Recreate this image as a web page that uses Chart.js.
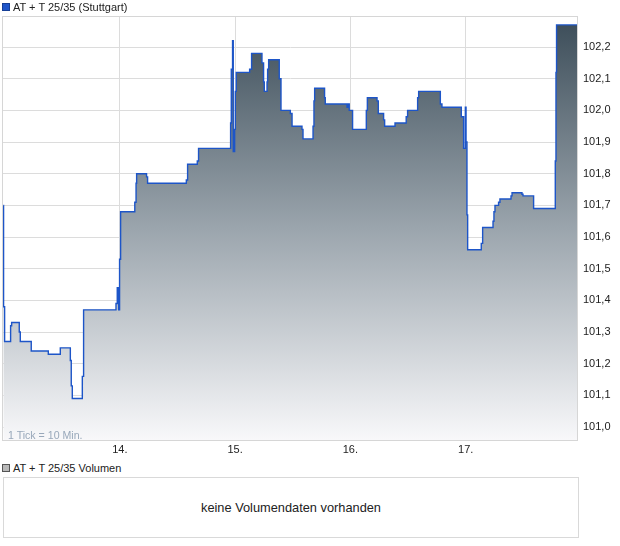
<!DOCTYPE html>
<html>
<head>
<meta charset="utf-8">
<script src="https://cdn.jsdelivr.net/npm/chart.js@4"></script>
<style>
  html, body { margin: 0; padding: 0; background: #ffffff; }
  body { width: 620px; height: 546px; position: relative; overflow: hidden; font-family: "Liberation Sans", Arial, sans-serif; color: #222; }
  #wrap { position: absolute; left: 0; top: 0; width: 620px; height: 460px; }
  .hdr { position: absolute; left: 2px; font-size: 11px; line-height: 12px; white-space: nowrap; }
  .hdr .sq { position: absolute; left: 0; top: 2px; width: 6px; height: 6px; }
  .hdr .tx { position: absolute; left: 11px; top: 0; }
  #h1 { top: 1px; }
  #h1 .sq { background: #1f55c9; border: 1px solid #163f96; }
  #h2 { top: 462px; }
  #h2 .sq { background: #b9b9b9; border: 1px solid #555; }
  #tick { position: absolute; left: 8px; top: 429px; font-size: 10.6px; color: #98a8ba; white-space: nowrap; }
  #vol { position: absolute; left: 3px; top: 477px; width: 574px; height: 59px; border: 1px solid #d9d9d9; box-sizing: content-box; }
  #vol span { position: absolute; left: 0; right: 0; top: 22px; text-align: center; font-size: 12.8px; color: #222; }
</style>
</head>
<body>
<div id="wrap"><canvas id="c" width="620" height="460"></canvas></div>
<div class="hdr" id="h1"><div class="sq"></div><div class="tx">AT + T 25/35 (Stuttgart)</div></div>
<div id="tick">1 Tick = 10 Min.</div>
<div class="hdr" id="h2"><div class="sq"></div><div class="tx">AT + T 25/35 Volumen</div></div>
<div id="vol"><span>keine Volumendaten vorhanden</span></div>
<script>
// Time axis in day units (integer = start of that trading day), price values
const times = [
  12.990, 12.992, 13.001, 13.053, 13.062, 13.128, 13.137, 13.232, 13.380, 13.484,
  13.571, 13.579, 13.588, 13.675, 13.686, 13.967, 13.978, 13.990, 13.998, 14.007,
  14.130, 14.141, 14.146, 14.232, 14.241, 14.577, 14.588, 14.672, 14.683, 14.961,
  14.967, 14.978, 14.984, 14.996, 15.002, 15.010, 15.126, 15.143, 15.233, 15.247,
  15.253, 15.277, 15.282, 15.291, 15.383, 15.398, 15.479, 15.494, 15.580, 15.589,
  15.676, 15.684, 15.690, 15.776, 15.782, 15.971, 15.982, 15.990, 16.019, 16.138,
  16.147, 16.231, 16.242, 16.288, 16.297, 16.387, 16.484, 16.496, 16.583, 16.592,
  16.780, 16.794, 16.962, 16.982, 16.997, 17.003, 17.011, 17.017, 17.135, 17.147,
  17.237, 17.245, 17.254, 17.285, 17.297, 17.393, 17.402, 17.488, 17.497, 17.589,
  17.777, 17.783, 17.788, 17.974
];
const prices = [
  101.70, 101.38, 101.27, 101.32, 101.33, 101.30, 101.27, 101.24, 101.23, 101.25,
  101.21, 101.13, 101.09, 101.16, 101.37, 101.39, 101.44, 101.37, 101.53, 101.68,
  101.71, 101.77, 101.80, 101.79, 101.77, 101.78, 101.83, 101.84, 101.88, 101.96,
  102.13, 102.22, 101.87, 101.94, 102.06, 102.12, 102.13, 102.18, 102.15, 102.09,
  102.06, 102.09, 102.13, 102.16, 102.10, 102.00, 101.99, 101.95, 101.94, 101.91,
  101.95, 102.03, 102.07, 102.04, 102.02, 102.01, 102.02, 102.00, 101.94, 102.00,
  102.04, 102.03, 101.99, 101.97, 101.95, 101.96, 101.98, 102.00, 102.04, 102.06,
  102.02, 102.01, 101.98, 101.88, 102.01, 101.90, 101.67, 101.56, 101.58, 101.63,
  101.65, 101.68, 101.70, 101.71, 101.72, 101.73, 101.74, 101.735, 101.73, 101.69,
  101.84, 102.12, 102.27, 102.27
];
const xTickValues = [14, 15, 16, 17];
const xTickLabels = ["14.", "15.", "16.", "17."];
const yTickValues = [101.0, 101.1, 101.2, 101.3, 101.4, 101.5, 101.6, 101.7, 101.8, 101.9, 102.0, 102.1, 102.2];

const points = times.map((t, i) => ({ x: t, y: prices[i] }));

const framePlugin = {
  id: 'frame',
  afterDraw(chart) {
    const a = chart.chartArea, ctx = chart.ctx;
    ctx.save();
    ctx.strokeStyle = '#d6d6d6';
    ctx.lineWidth = 1;
    ctx.strokeRect(Math.round(a.left) - 0.5, Math.round(a.top) - 0.5, Math.round(a.right - a.left), Math.round(a.bottom - a.top) + 1);
    ctx.restore();
  }
};

new Chart(document.getElementById('c'), {
  type: 'line',
  data: {
    datasets: [{
      data: points,
      stepped: true,
      borderColor: '#1d55c8',
      borderWidth: 1.4,
      pointRadius: 0,
      fill: 'start',
      backgroundColor(ctx) {
        const a = ctx.chart.chartArea;
        if (!a) return '#9aa5ad';
        const g = ctx.chart.ctx.createLinearGradient(0, a.top, 0, a.bottom);
        g.addColorStop(0, '#3b4c58');
        g.addColorStop(0.5, '#9ba5ad');
        g.addColorStop(1, '#f8f8fa');
        return g;
      }
    }]
  },
  options: {
    responsive: false,
    animation: false,
    events: [],
    layout: { padding: { left: 3, top: 17, right: 0, bottom: 0 } },
    plugins: { legend: { display: false }, tooltip: { enabled: false } },
    scales: {
      x: {
        type: 'linear',
        min: 12.987,
        max: 17.974,
        afterFit(s) { s.height = 20; },
        afterBuildTicks(s) { s.ticks = xTickValues.map(v => ({ value: v })); },
        grid: { color: '#dcdcdc', drawTicks: false, lineWidth: 1 },
        border: { display: false },
        ticks: {
          padding: 3,
          maxRotation: 0,
          autoSkip: false,
          color: '#222',
          font: { family: '"Liberation Sans", Arial, sans-serif', size: 11 },
          callback(v) { const i = xTickValues.indexOf(v); return i >= 0 ? xTickLabels[i] : ''; }
        }
      },
      y: {
        position: 'right',
        min: 100.959,
        max: 102.295,
        afterFit(s) { s.width = 42; },
        afterBuildTicks(s) { s.ticks = yTickValues.map(v => ({ value: v })); },
        grid: { color: '#dcdcdc', drawTicks: false, lineWidth: 1 },
        border: { display: false },
        ticks: {
          padding: 5,
          color: '#222',
          font: { family: '"Liberation Sans", Arial, sans-serif', size: 11 },
          callback(v) { return v.toFixed(1).replace('.', ','); }
        }
      }
    }
  },
  plugins: [framePlugin]
});
</script>
</body>
</html>
